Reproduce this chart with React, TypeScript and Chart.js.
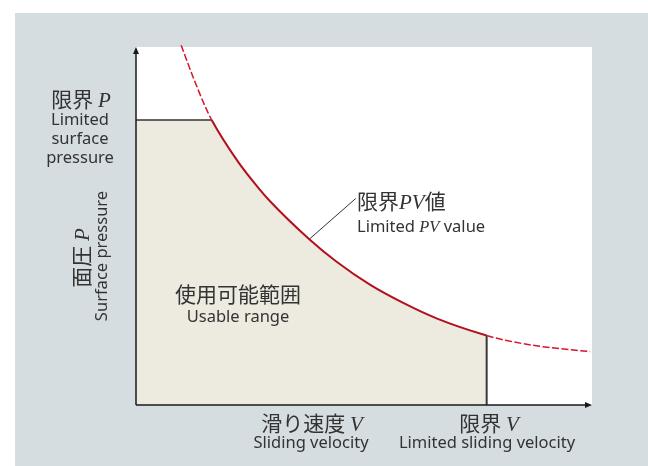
import { useEffect, useRef } from 'react';
import { Chart, registerables } from 'chart.js';

Chart.register(...registerables);

// ---- data (axis units 0..100) ----
const curveV = [9.9, 12.7, 15.1, 16.6, 22.4, 26.6, 29.4, 38.0, 44.0, 51.3, 58.6, 65.9, 76.9, 81.3, 88.6, 99.6];
const curveP = [100.5, 91.0, 83.6, 79.6, 67.9, 61.0, 56.9, 46.3, 40.0, 33.6, 28.5, 24.2, 19.4, 18.0, 16.4, 14.9];
const limitP = 79.6;
const limitV = 76.9;
const leaderV = [38.0, 48.2];
const leaderP = [46.3, 57.7];

const W = 648;
const H = 466;
const GREY = '#d5dde0';
const BEIGE = '#edeadf';
const TEXT = '#333333';
const JP = '21px "Noto Sans CJK JP"';
const EN = '16.5px "Noto Sans", "Noto Sans CJK JP"';
const ITJ = 'italic 21px "Liberation Serif"';
const ITE = 'italic 16.5px "Liberation Serif"';

type Part = { t: string; f: string };

function drawRich(ctx: CanvasRenderingContext2D, parts: Part[], x: number, y: number, align: 'left' | 'center') {
  let total = 0;
  const ws = parts.map((p) => {
    ctx.font = p.f;
    const w = ctx.measureText(p.t).width;
    total += w;
    return w;
  });
  let cx = align === 'center' ? x - total / 2 : x;
  ctx.textAlign = 'left';
  ctx.textBaseline = 'alphabetic';
  parts.forEach((p, i) => {
    ctx.font = p.f;
    ctx.fillText(p.t, cx, y);
    cx += ws[i];
  });
}

export default function App() {
  const ref = useRef<HTMLCanvasElement>(null);

  useEffect(() => {
    const canvas = ref.current!;
    const pts = curveV.map((v, i) => ({ x: v, y: curveP[i] }));
    const i0 = curveV.indexOf(16.6);
    const i1 = curveV.indexOf(limitV);
    const inSolid = (c: any) => c.p0DataIndex >= i0 && c.p0DataIndex < i1;
    const AREA_DS = 4;

    const bgPlugin = {
      id: 'bg',
      beforeDraw(chart: any) {
        const { ctx, chartArea: a } = chart;
        ctx.save();
        ctx.fillStyle = '#ffffff';
        ctx.fillRect(0, 0, W, H);
        ctx.fillStyle = GREY;
        ctx.fillRect(15, 13, W - 15, H - 13);
        ctx.fillStyle = '#ffffff';
        ctx.fillRect(a.left, a.top, a.right - a.left, a.bottom - a.top);
        ctx.restore();
      },
    };

    // usable range: area under the PV curve, limited by limit P and limit V
    const areaPlugin = {
      id: 'area',
      beforeDatasetsDraw(chart: any) {
        const { ctx } = chart;
        const xs = chart.scales.x;
        const ys = chart.scales.y;
        const meta = chart.getDatasetMeta(AREA_DS);
        const line = meta.dataset;
        const x0 = xs.getPixelForValue(0);
        const y0 = ys.getPixelForValue(0);
        const xl = xs.getPixelForValue(limitV);
        const yl = ys.getPixelForValue(limitP);
        ctx.save();
        ctx.beginPath();
        ctx.rect(x0, yl, xl - x0, y0 - yl);
        ctx.clip();
        ctx.beginPath();
        line.path(ctx);
        const last = meta.data[meta.data.length - 1];
        const first = meta.data[0];
        ctx.lineTo(last.x, y0);
        ctx.lineTo(x0, y0);
        ctx.lineTo(x0, first.y);
        ctx.closePath();
        ctx.fillStyle = BEIGE;
        ctx.fill();
        ctx.restore();
      },
    };

    const overlay = {
      id: 'overlay',
      afterDatasetsDraw(chart: any) {
        const { ctx } = chart;
        const xs = chart.scales.x;
        const ys = chart.scales.y;
        const x0 = xs.getPixelForValue(0);
        const y0 = ys.getPixelForValue(0);
        const xEnd = xs.getPixelForValue(100);
        const yEnd = ys.getPixelForValue(100);
        ctx.save();
        ctx.strokeStyle = '#1a1a1a';
        ctx.fillStyle = '#1a1a1a';
        ctx.lineWidth = 1.5;
        ctx.beginPath();
        ctx.moveTo(x0, y0);
        ctx.lineTo(x0, yEnd + 5);
        ctx.moveTo(x0, y0);
        ctx.lineTo(xEnd - 5, y0);
        ctx.stroke();
        // arrow heads
        ctx.beginPath();
        ctx.moveTo(x0, yEnd);
        ctx.lineTo(x0 - 3, yEnd + 7);
        ctx.lineTo(x0 + 3, yEnd + 7);
        ctx.closePath();
        ctx.fill();
        ctx.beginPath();
        ctx.moveTo(xEnd, y0);
        ctx.lineTo(xEnd - 7, y0 - 3);
        ctx.lineTo(xEnd - 7, y0 + 3);
        ctx.closePath();
        ctx.fill();

        // texts
        ctx.fillStyle = TEXT;
        drawRich(ctx, [{ t: '限界 ', f: JP }, { t: 'P', f: ITJ }], 81, 107, 'center');
        drawRich(ctx, [{ t: 'Limited', f: EN }], 80, 125, 'center');
        drawRich(ctx, [{ t: 'surface', f: EN }], 80, 144, 'center');
        drawRich(ctx, [{ t: 'pressure', f: EN }], 80, 163, 'center');

        ctx.save();
        ctx.translate(89, 258);
        ctx.rotate(-Math.PI / 2);
        drawRich(ctx, [{ t: '面圧 ', f: JP }, { t: 'P', f: ITJ }], 0, 0, 'center');
        ctx.restore();
        ctx.save();
        ctx.translate(107, 256);
        ctx.rotate(-Math.PI / 2);
        drawRich(ctx, [{ t: 'Surface pressure', f: EN }], 0, 0, 'center');
        ctx.restore();

        drawRich(ctx, [{ t: '限界', f: JP }, { t: 'PV', f: ITJ }, { t: '値', f: JP }], 357, 208.5, 'left');
        drawRich(ctx, [{ t: 'Limited ', f: EN }, { t: 'PV', f: ITE }, { t: ' value', f: EN }], 357, 232, 'left');

        drawRich(ctx, [{ t: '使用可能範囲', f: JP }], 238, 302, 'center');
        drawRich(ctx, [{ t: 'Usable range', f: EN }], 238, 322, 'center');

        drawRich(ctx, [{ t: '滑り速度 ', f: JP }, { t: 'V', f: ITJ }], 312, 430.5, 'center');
        drawRich(ctx, [{ t: 'Sliding velocity', f: EN }], 311, 448, 'center');
        drawRich(ctx, [{ t: '限界 ', f: JP }, { t: 'V', f: ITJ }], 489, 430.5, 'center');
        drawRich(ctx, [{ t: 'Limited sliding velocity', f: EN }], 487, 448, 'center');
        ctx.restore();
      },
    };

    const chart = new Chart(canvas, {
      type: 'line',
      data: {
        datasets: [
          {
            data: pts,
            borderColor: '#b3101f',
            borderWidth: 2,
            cubicInterpolationMode: 'monotone',
            pointRadius: 0,
            fill: false,
            clip: false,
            order: 1,
            segment: {
              borderColor: (c: any) => (inSolid(c) ? '#b3101f' : '#d8142c'),
              borderDash: (c: any) => (inSolid(c) ? [] : [7, 2.5]),
              borderWidth: (c: any) => (inSolid(c) ? 2 : 1.5),
            },
          } as any,
          {
            data: [
              { x: 0, y: limitP },
              { x: curveV[i0], y: limitP },
            ],
            borderColor: '#333333',
            borderWidth: 1.5,
            pointRadius: 0,
            fill: false,
            order: 3,
          },
          {
            data: [
              { x: limitV, y: curveP[i1] },
              { x: limitV, y: 0 },
            ],
            borderColor: '#3a3a3a',
            borderWidth: 2,
            pointRadius: 0,
            fill: false,
            order: 2,
          },
          {
            data: leaderV.map((v, i) => ({ x: v, y: leaderP[i] })),
            borderColor: '#333333',
            borderWidth: 1,
            pointRadius: 0,
            fill: false,
            order: 0,
          },
          {
            // same curve, unstyled, used as the outline of the usable range
            data: pts,
            borderColor: 'rgba(0,0,0,0)',
            borderWidth: 0,
            cubicInterpolationMode: 'monotone',
            pointRadius: 0,
            fill: false,
            order: 9,
          },
        ],
      },
      options: {
        animation: false,
        responsive: false,
        maintainAspectRatio: false,
        layout: { padding: { left: 136, right: W - 592, top: 47, bottom: H - 405 } },
        plugins: { legend: { display: false }, tooltip: { enabled: false } },
        events: [],
        scales: {
          x: { type: 'linear', min: 0, max: 100, display: false },
          y: { type: 'linear', min: 0, max: 100, display: false },
        },
      },
      plugins: [bgPlugin, areaPlugin, overlay],
    });
    return () => chart.destroy();
  }, []);

  return (
    <div style={{ position: 'absolute', left: 0, top: 0, width: W, height: H }}>
      <canvas ref={ref} width={W} height={H} style={{ display: 'block', width: W, height: H }} />
    </div>
  );
}
